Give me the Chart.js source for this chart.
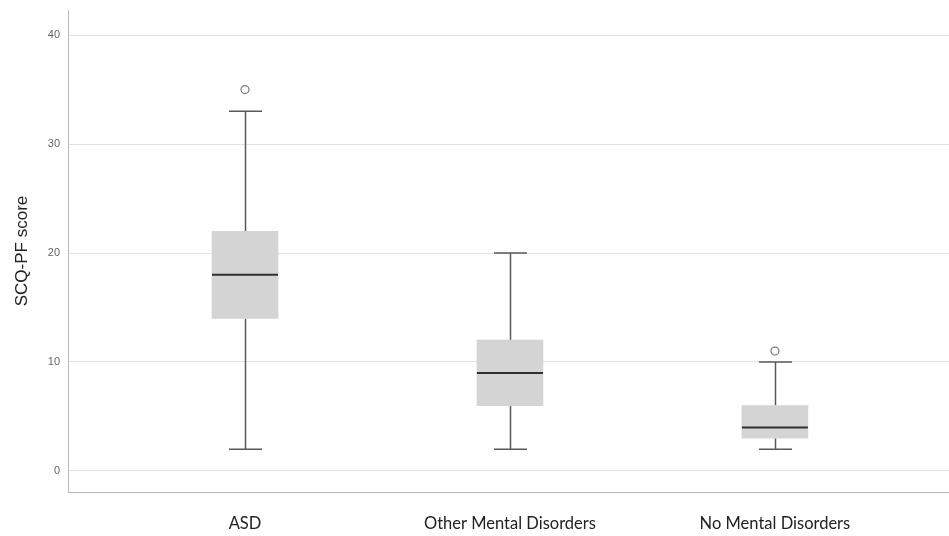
<!DOCTYPE html>
<html>
<head>
<meta charset="utf-8">
<script src="https://cdn.jsdelivr.net/npm/chart.js@4.4.1/dist/chart.umd.min.js"></script>
<style>
  html, body { margin: 0; padding: 0; background: #fff; }
  #wrap { width: 949px; height: 536px; position: relative; }
</style>
</head>
<body>
<div id="wrap"><canvas id="box"></canvas></div>
<script>
// Box plot values (SCQ-PF score per group)
const categories = ['ASD', 'Other Mental Disorders', 'No Mental Disorders'];
const whiskerLow = [2, 2, 2];
const q1 = [14, 6, 3];
const median = [18, 9, 4];
const q3 = [22, 12, 6];
const whiskerHigh = [33, 20, 10];
const outliers = [[35], [], [11]];
const yTicks = [0, 10, 20, 30, 40];

const boxData = categories.map((c, i) => ({ x: i + 1, y: [q1[i], q3[i]] }));
const outlierData = [];
outliers.forEach((list, i) => list.forEach((v) => outlierData.push({ x: i + 1, y: v })));

// whiskers, caps and median lines, placed with the chart's own scales
const boxExtras = {
  id: 'boxExtras',
  beforeDatasetsDraw(chart) {
    const { ctx, scales: { x, y } } = chart;
    ctx.save();
    ctx.strokeStyle = '#5a5a5a';
    ctx.lineWidth = 1.5;
    categories.forEach((c, i) => {
      const cx = Math.round(x.getPixelForValue(i + 1)) + 0.5;
      const half = 16.5;
      const yLo = y.getPixelForValue(whiskerLow[i]);
      const yHi = y.getPixelForValue(whiskerHigh[i]);
      ctx.beginPath();
      ctx.moveTo(cx, yHi); ctx.lineTo(cx, y.getPixelForValue(q3[i]));
      ctx.moveTo(cx, y.getPixelForValue(q1[i])); ctx.lineTo(cx, yLo);
      ctx.moveTo(cx - half, yHi); ctx.lineTo(cx + half, yHi);
      ctx.moveTo(cx - half, yLo); ctx.lineTo(cx + half, yLo);
      ctx.stroke();
    });
    ctx.restore();
  },
  afterDatasetsDraw(chart) {
    const { ctx, scales: { y } } = chart;
    const meta = chart.getDatasetMeta(0);
    ctx.save();
    ctx.strokeStyle = '#2f2f2f';
    ctx.lineWidth = 2;
    meta.data.forEach((bar, i) => {
      const my = y.getPixelForValue(median[i]);
      ctx.beginPath();
      ctx.moveTo(bar.x - bar.width / 2, my);
      ctx.lineTo(bar.x + bar.width / 2, my);
      ctx.stroke();
    });
    ctx.restore();
  }
};

new Chart(document.getElementById('box'), {
  data: {
    datasets: [
      {
        type: 'bar',
        data: boxData,
        backgroundColor: '#d4d4d4',
        borderWidth: 0,
        barThickness: 66,
        grouped: false,
        order: 2
      },
      {
        type: 'scatter',
        data: outlierData,
        pointStyle: 'circle',
        pointRadius: 4,
        pointBackgroundColor: '#ffffff',
        pointBorderColor: '#7a7a7a',
        pointBorderWidth: 1.2,
        order: 1
      }
    ]
  },
  options: {
    responsive: true,
    maintainAspectRatio: false,
    animation: false,
    layout: { autoPadding: false, padding: { top: 10, right: 0, left: 0, bottom: 0 } },
    plugins: { legend: { display: false }, tooltip: { enabled: false } },
    scales: {
      x: {
        type: 'linear',
        offset: false,
        min: 0.332,
        max: 3.657,
        grid: { display: false, drawTicks: false },
        border: { display: true, color: '#b8b8b8', width: 1 },
        afterBuildTicks(scale) { scale.ticks = categories.map((c, i) => ({ value: i + 1 })); },
        afterFit(scale) { scale.height = 44; scale.paddingRight = 0; scale.paddingLeft = 0; },
        ticks: {
          autoSkip: false,
          maxRotation: 0,
          padding: 22,
          color: '#222',
          font: { family: 'Lato, "Open Sans", sans-serif', size: 16.5 },
          callback: (v) => categories[v - 1] || ''
        }
      },
      y: {
        type: 'linear',
        min: -1.93,
        max: 42.3,
        grid: { color: '#e2e2e2', lineWidth: 1, drawTicks: false },
        border: { display: true, color: '#b8b8b8', width: 1 },
        afterBuildTicks(scale) { scale.ticks = yTicks.map((v) => ({ value: v })); },
        afterFit(scale) { scale.width = 68; scale.paddingTop = 0; scale.paddingBottom = 0; },
        ticks: {
          padding: 8,
          color: '#666',
          font: { family: '"Liberation Sans", Arial, sans-serif', size: 11 }
        },
        title: {
          display: true,
          text: 'SCQ-PF score',
          color: '#222',
          padding: { top: 12, bottom: 0 },
          font: { family: '"Liberation Sans", Arial, sans-serif', size: 17 }
        }
      }
    }
  },
  plugins: [boxExtras]
});
</script>
</body>
</html>
